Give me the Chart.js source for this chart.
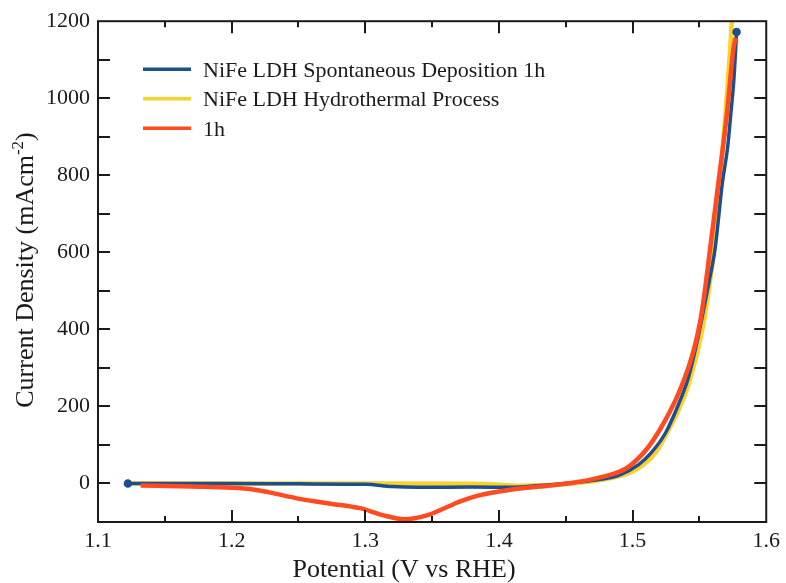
<!DOCTYPE html>
<html>
<head>
<meta charset="utf-8">
<title>LSV polarization curves</title>
<script src="https://cdn.jsdelivr.net/npm/chart.js@4.4.1/dist/chart.umd.min.js"></script>
<style>
    html, body { margin: 0; padding: 0; background: #fff; }
    #wrap { width: 786px; height: 583px; position: relative; }
</style>
</head>
<body>
<div id="wrap"><canvas id="lsvChart"></canvas></div>
<script>
// Values: potential (V vs RHE) and current density (mA cm-2)
const spontPotential = [1.1224, 1.16, 1.20, 1.25, 1.30, 1.32, 1.34, 1.38, 1.41, 1.43, 1.454, 1.475, 1.4896, 1.5045, 1.514, 1.5246, 1.5343, 1.5418, 1.549, 1.5525, 1.557, 1.5617, 1.5672, 1.5712, 1.5735, 1.5757, 1.5771, 1.5778];
const spontCurrent   = [0, 0, 0, -1, -2, -8, -10, -9, -10, -5, 1, 10, 21, 49, 80, 131, 205, 276, 380, 440, 520, 609, 781, 875, 960, 1045, 1127, 1172];

const hydroPotential = [1.1246, 1.20, 1.30, 1.38, 1.40, 1.415, 1.44, 1.455, 1.475, 1.495, 1.5045, 1.51, 1.518, 1.5246, 1.5343, 1.5418, 1.5507, 1.5545, 1.5612, 1.565, 1.5694, 1.573, 1.5745];
const hydroCurrent   = [0, 0, 0, -1, -3, -6, -4, 0, 8, 24, 40, 54, 84, 124, 190, 257, 375, 445, 615, 770, 954, 1127, 1215];

const oneHourPotential = [1.1319, 1.17, 1.20, 1.215, 1.228, 1.251, 1.273, 1.296, 1.313, 1.329, 1.346, 1.36, 1.37, 1.385, 1.405, 1.43, 1.454, 1.475, 1.495, 1.507, 1.515, 1.5246, 1.5343, 1.5418, 1.547, 1.5507, 1.553, 1.558, 1.5642, 1.5704, 1.5754, 1.577];
const oneHourCurrent   = [-5, -8, -11, -15, -23, -40, -52, -64, -82, -93, -83, -63, -48, -31, -18, -8, 1, 15, 39, 75, 110, 165, 233, 301, 363, 423, 474, 609, 781, 954, 1127, 1157];

const xTickLabels = [1.1, 1.2, 1.3, 1.4, 1.5, 1.6];
const yTickLabels = [0, 200, 400, 600, 800, 1000, 1200];

const FONT = '"Liberation Serif", "Times New Roman", serif';
const INK = '#1a1a1a';

function toPoints(xs, ys) {
    return xs.map((x, i) => ({ x, y: ys[i] }));
}

// Frame on all four sides with inward ticks (minor ones included)
const frameTicks = {
    id: 'frameTicks',
    afterDatasetsDraw(chart) {
        const { ctx, chartArea: a, scales: { x, y } } = chart;
        ctx.save();
        ctx.strokeStyle = INK;
        ctx.lineWidth = 2;
        ctx.beginPath();
        for (let i = 1; i < 10; i++) {
            const px = Math.round(x.getPixelForValue(1.1 + i * 0.05));
            const len = i % 2 === 0 ? 12 : 6;
            ctx.moveTo(px, a.bottom); ctx.lineTo(px, a.bottom - len);
            ctx.moveTo(px, a.top); ctx.lineTo(px, a.top + len);
        }
        for (let i = 1; i < 13; i++) {
            const py = Math.round(y.getPixelForValue(-100 + i * 100));
            ctx.moveTo(a.left, py); ctx.lineTo(a.left + 12, py);
            ctx.moveTo(a.right, py); ctx.lineTo(a.right - 12, py);
        }
        ctx.stroke();
        ctx.strokeRect(a.left, a.top, a.right - a.left, a.bottom - a.top);
        ctx.restore();
    }
};

// Legend drawn inside the plot, top left
const insideLegend = {
    id: 'insideLegend',
    afterDraw(chart) {
        const { ctx, chartArea: a } = chart;
        ctx.save();
        ctx.font = `22px ${FONT}`;
        ctx.textBaseline = 'alphabetic';
        chart.data.datasets.forEach((ds, i) => {
            const y = a.top + 48 + i * 29.5;
            ctx.strokeStyle = ds.borderColor;
            ctx.lineWidth = 3.5;
            ctx.beginPath();
            ctx.moveTo(a.left + 45, y);
            ctx.lineTo(a.left + 93, y);
            ctx.stroke();
            ctx.fillStyle = INK;
            ctx.fillText(ds.label, a.left + 105, y + 7.5);
        });
        ctx.restore();
    }
};

// Axis titles (y title has a real superscript)
const axisTitles = {
    id: 'axisTitles',
    afterDraw(chart) {
        const { ctx } = chart;
        ctx.save();
        ctx.fillStyle = INK;
        ctx.textBaseline = 'alphabetic';

        ctx.font = `26px ${FONT}`;
        ctx.textAlign = 'center';
        ctx.fillText('Potential (V vs RHE)', 404, 577);

        const main = 'Current Density (mAcm';
        const sup = '-2';
        const tail = ')';
        ctx.font = `26px ${FONT}`;
        const wMain = ctx.measureText(main).width;
        const wTail = ctx.measureText(tail).width;
        ctx.font = `17px ${FONT}`;
        const wSup = ctx.measureText(sup).width;
        const total = wMain + wSup + wTail;

        ctx.translate(33, 270);
        ctx.rotate(-Math.PI / 2);
        ctx.textAlign = 'left';
        let cx = -total / 2;
        ctx.font = `26px ${FONT}`;
        ctx.fillText(main, cx, 0);
        cx += wMain;
        ctx.font = `17px ${FONT}`;
        ctx.fillText(sup, cx, -10);
        cx += wSup;
        ctx.font = `26px ${FONT}`;
        ctx.fillText(tail, cx, 0);
        ctx.restore();
    }
};

const ctx = document.getElementById('lsvChart').getContext('2d');
new Chart(ctx, {
    type: 'line',
    data: {
        datasets: [
            {
                label: 'NiFe LDH Spontaneous Deposition 1h',
                data: toPoints(spontPotential, spontCurrent),
                borderColor: '#1c4f8e',
                backgroundColor: '#1c4f8e',
                borderWidth: 3.5,
                pointRadius: spontPotential.map((_, i) => (i === 0 || i === spontPotential.length - 1) ? 2.5 : 0),
                order: 1
            },
            {
                label: 'NiFe LDH Hydrothermal Process',
                data: toPoints(hydroPotential, hydroCurrent),
                borderColor: '#fdd02b',
                backgroundColor: '#fdd02b',
                borderWidth: 4.5,
                pointRadius: 0,
                order: 2
            },
            {
                label: '1h',
                data: toPoints(oneHourPotential, oneHourCurrent),
                borderColor: '#ff4b1f',
                backgroundColor: '#ff4b1f',
                borderWidth: 4.5,
                pointRadius: 0,
                order: 0
            }
        ]
    },
    options: {
        responsive: true,
        maintainAspectRatio: false,
        animation: false,
        parsing: false,
        cubicInterpolationMode: 'monotone',
        layout: { padding: { left: 0, right: 18, top: 20, bottom: 0 } },
        plugins: {
            legend: { display: false },
            tooltip: { enabled: false }
        },
        scales: {
            x: {
                type: 'linear',
                min: 1.1,
                max: 1.6,
                afterBuildTicks: (scale) => { scale.ticks = xTickLabels.map(v => ({ value: v })); },
                afterFit: (scale) => { scale.height = 61; },
                grid: { display: false, drawTicks: false },
                border: { display: false },
                ticks: {
                    padding: 6,
                    color: INK,
                    font: { family: FONT, size: 22 },
                    maxRotation: 0,
                    callback: (v) => Number(v).toFixed(1)
                }
            },
            y: {
                type: 'linear',
                min: -100,
                max: 1200,
                afterBuildTicks: (scale) => { scale.ticks = yTickLabels.map(v => ({ value: v })); },
                afterFit: (scale) => { scale.width = 98; },
                grid: { display: false, drawTicks: false },
                border: { display: false },
                ticks: {
                    padding: 8,
                    color: INK,
                    font: { family: FONT, size: 22 },
                    callback: (v) => String(v)
                }
            }
        }
    },
    plugins: [frameTicks, insideLegend, axisTitles]
});
</script>
</body>
</html>
